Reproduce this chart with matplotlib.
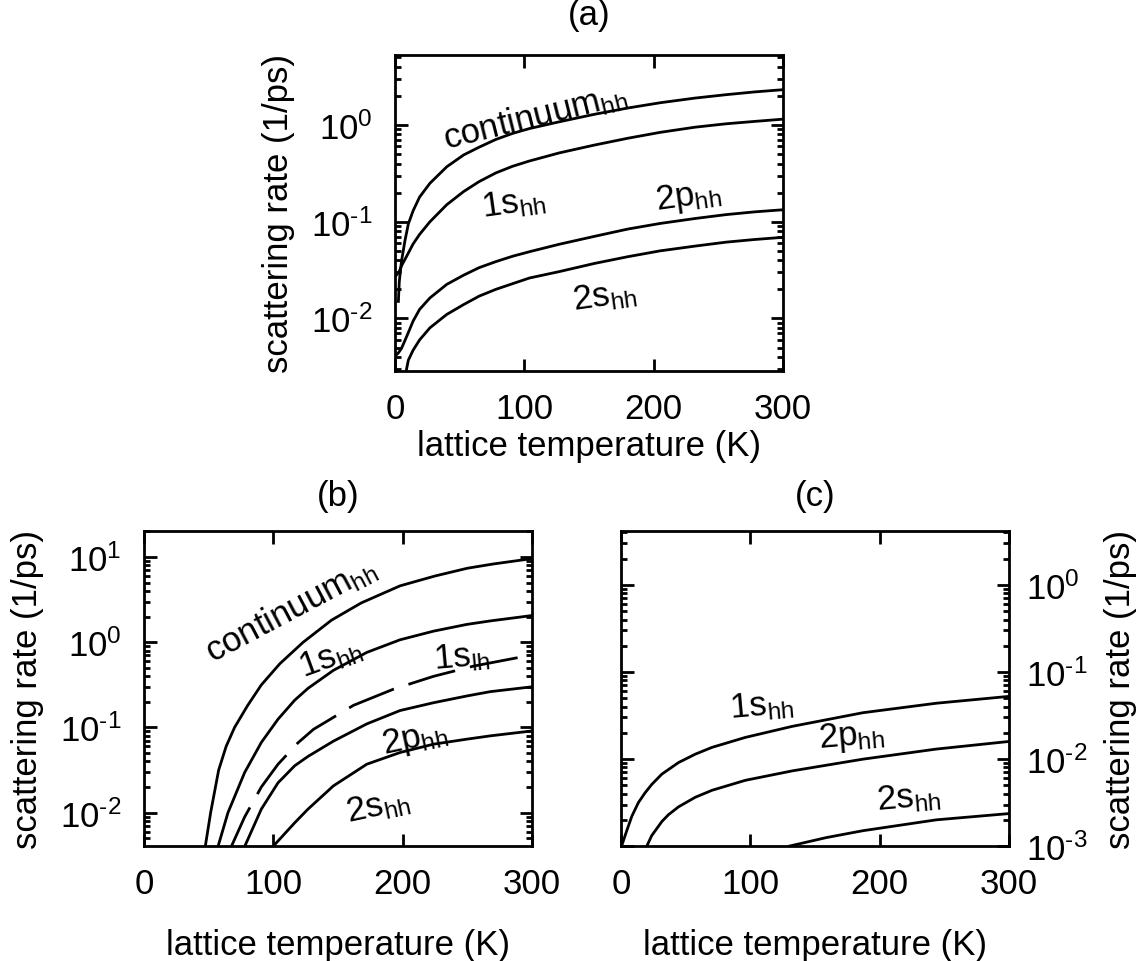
import numpy as np
import matplotlib
matplotlib.use('Agg')
import matplotlib.pyplot as plt
from matplotlib.ticker import LogLocator, NullFormatter, FuncFormatter

plt.rcParams['font.family'] = ['Liberation Sans', 'DejaVu Sans']
plt.rcParams['mathtext.fontset'] = 'custom'
plt.rcParams['mathtext.rm'] = 'Liberation Sans'
plt.rcParams['mathtext.it'] = 'Liberation Sans:italic'
plt.rcParams['mathtext.bf'] = 'Liberation Sans:bold'

# %% data (temperature in K, rate in 1/ps)
# panel (a)
T_a_cont = [2.6, 3.3, 5, 7.7, 10.3, 14, 19, 27, 40, 53, 65, 78, 91, 104, 127, 154, 180, 205, 232, 256, 278, 300]
r_a_cont = [0.015, 0.024, 0.039, 0.064, 0.095, 0.13, 0.18, 0.25, 0.37, 0.49, 0.59, 0.71, 0.82, 0.92, 1.08,
            1.29, 1.5, 1.7, 1.9, 2.06, 2.2, 2.32]
T_a_1s = [1, 3, 5, 9, 14, 19, 27, 40, 53, 65, 78, 91, 104, 127, 154, 180, 205, 232, 256, 278, 300]
r_a_1s = [0.028, 0.030, 0.035, 0.044, 0.059, 0.074, 0.10, 0.15, 0.205, 0.26, 0.32, 0.375, 0.425, 0.515, 0.62,
          0.73, 0.84, 0.95, 1.03, 1.09, 1.15]
T_a_2p = [1, 2.6, 5, 9, 14, 19, 27, 40, 53, 65, 78, 91, 104, 127, 154, 180, 205, 232, 256, 278, 300]
r_a_2p = [0.0042, 0.0044, 0.0049, 0.0065, 0.0094, 0.0124, 0.0163, 0.0225, 0.028, 0.0335, 0.0387, 0.044,
          0.049, 0.0585, 0.0705, 0.084, 0.096, 0.108, 0.1185, 0.1265, 0.133]
T_a_2s = [8, 10.3, 14, 19, 27, 40, 53, 65, 78, 91, 104, 127, 154, 180, 205, 232, 256, 278, 300]
r_a_2s = [0.0026, 0.0037, 0.0047, 0.006, 0.008, 0.011, 0.0139, 0.017, 0.020, 0.0229, 0.0262, 0.0305, 0.037,
          0.0435, 0.050, 0.056, 0.0615, 0.0655, 0.069]

# panel (b)
T_b_cont = [46, 47.4, 51.5, 57.7, 63.5, 70, 80, 90.7, 105, 123, 145, 168, 198, 225, 250, 270, 300]
r_b_cont = [0.0028, 0.00405, 0.01, 0.0316, 0.060, 0.1, 0.18, 0.316, 0.56, 1.0, 1.82, 2.9, 4.6, 6.0, 7.4, 8.3, 9.6]
T_b_1s = [56, 57.2, 64.9, 77.8, 90.7, 103.6, 116.5, 126.8, 146.4, 172.2, 198, 223.8, 249.5, 267.6, 300]
r_b_1s = [0.0035, 0.004, 0.01, 0.0296, 0.0667, 0.125, 0.209, 0.288, 0.468, 0.76, 1.07, 1.35, 1.62, 1.78, 2.06]
T_b_1slh = [66, 67.5, 77.8, 90.7, 103.6, 119, 131, 162, 193, 223.8, 254.8, 300]
r_b_1slh = [0.0035, 0.004, 0.0089, 0.020, 0.037, 0.066, 0.095, 0.182, 0.282, 0.398, 0.525, 0.71]
T_b_2p = [76, 77.8, 90.7, 103.6, 116.5, 126.8, 146.4, 172.2, 198, 223.8, 249.5, 267.6, 300]
r_b_2p = [0.0035, 0.004, 0.011, 0.0224, 0.0355, 0.0457, 0.069, 0.11, 0.158, 0.195, 0.234, 0.263, 0.30]
T_b_2s = [98, 99.7, 116.5, 126.8, 146.4, 172.2, 198, 223.8, 249.5, 267.6, 300]
r_b_2s = [0.0036, 0.004, 0.0076, 0.011, 0.0206, 0.037, 0.0508, 0.0636, 0.0728, 0.0796, 0.091]

# panel (c)
T_c_1s = [0.5, 4.4, 8.4, 13.5, 18.7, 23.8, 31.6, 44.5, 57.4, 70.4, 96.2, 132.4, 187, 243.8, 300]
r_c_1s = [0.001, 0.00149, 0.0022, 0.00316, 0.0041, 0.0051, 0.0067, 0.0091, 0.01135, 0.0136, 0.0177, 0.0237,
          0.034, 0.0437, 0.0524]
T_c_2p = [20, 23.8, 31.6, 36.7, 44.5, 57.4, 70.4, 96.2, 132.4, 187, 243.8, 300]
r_c_2p = [0.001, 0.00132, 0.00191, 0.00229, 0.00282, 0.00363, 0.00437, 0.00569, 0.0073, 0.00995, 0.013, 0.0159]
T_c_2s = [130.4, 158.7, 187, 243.8, 300]
r_c_2s = [0.001, 0.00125, 0.0015, 0.002, 0.00236]

fs = 25
lw = 2.0


def decade_label(v, pos):
    e = int(round(np.log10(v)))
    return r'$\mathdefault{10^{%s}}$' % str(e).replace('-', '\u2010')


def style(ax, ylim, right=False, xpad=20):
    ax.set_yscale('log')
    ax.set_xlim(0, 300)
    ax.set_ylim(*ylim)
    ax.set_xticks([0, 100, 200, 300])
    ax.yaxis.set_major_locator(LogLocator(base=10, numticks=20))
    ax.yaxis.set_major_formatter(FuncFormatter(decade_label))
    ax.yaxis.set_minor_locator(LogLocator(base=10, subs=np.arange(2, 10), numticks=20))
    ax.yaxis.set_minor_formatter(NullFormatter())
    ax.tick_params(which='both', direction='in', top=True, right=True, left=True, width=2)
    ax.tick_params(which='major', length=9, labelsize=fs)
    ax.tick_params(which='minor', length=4.5)
    ax.tick_params(axis='x', pad=15)
    ax.tick_params(axis='y', pad=16)
    for s in ax.spines.values():
        s.set_linewidth(2)
    if right:
        ax.tick_params(axis='y', labelleft=False, labelright=True, pad=12)
        ax.yaxis.set_label_position('right')
    ax.set_xlabel('lattice temperature (K)', fontsize=fs, labelpad=xpad)
    ax.set_ylabel('scattering rate (1/ps)', fontsize=fs, labelpad=12)


def label(ax, x, y, s, rot):
    ax.text(x, y, s, fontsize=fs, rotation=rot, ha='center', va='center', rotation_mode='anchor')


fig = plt.figure(figsize=(11.44, 9.62), dpi=100)
ax_a = fig.add_axes([0.3453, 0.6133, 0.3392, 0.3285])
ax_b = fig.add_axes([0.1259, 0.1195, 0.3392, 0.3274])
ax_c = fig.add_axes([0.5428, 0.1195, 0.3392, 0.3274])

# (a)
ax_a.plot(T_a_cont, r_a_cont, 'k-', lw=lw)
ax_a.plot(T_a_1s, r_a_1s, 'k-', lw=lw)
ax_a.plot(T_a_2p, r_a_2p, 'k-', lw=lw)
ax_a.plot(T_a_2s, r_a_2s, 'k-', lw=lw)
style(ax_a, (0.00286, 5.3), xpad=3)
ax_a.set_title('(a)', fontsize=fs, pad=22)
label(ax_a, 108, 1.25, r'continuum$_\mathrm{hh}$', 14)
label(ax_a, 92, 0.158, r'1s$_\mathrm{hh}$', 8)
label(ax_a, 227, 0.185, r'2p$_\mathrm{hh}$', 8)
label(ax_a, 162, 0.0172, r'2s$_\mathrm{hh}$', 8)

# (b)
ax_b.plot(T_b_cont, r_b_cont, 'k-', lw=lw)
ax_b.plot(T_b_1s, r_b_1s, 'k-', lw=lw)
ax_b.plot(T_b_1slh, r_b_1slh, 'k-', lw=lw, dashes=(17.5, 5.5))
ax_b.plot(T_b_2p, r_b_2p, 'k-', lw=lw)
ax_b.plot(T_b_2s, r_b_2s, 'k-', lw=lw)
style(ax_b, (0.00405, 20.2))
ax_b.set_title('(b)', fontsize=fs, pad=19)
label(ax_b, 113.6, 2.47, r'continuum$_\mathrm{hh}$', 28)
label(ax_b, 144.5, 0.667, r'1s$_\mathrm{hh}$', 20)
label(ax_b, 245.7, 0.667, r'1s$_\mathrm{lh}$', 5)
label(ax_b, 209, 0.076, r'2p$_\mathrm{hh}$', 12)
label(ax_b, 181, 0.012, r'2s$_\mathrm{hh}$', 12)

# (c)
ax_c.plot(T_c_1s, r_c_1s, 'k-', lw=lw)
ax_c.plot(T_c_2p, r_c_2p, 'k-', lw=lw)
ax_c.plot(T_c_2s, r_c_2s, 'k-', lw=lw)
style(ax_c, (0.001, 4.15), right=True)
ax_c.set_title('(c)', fontsize=fs, pad=19)
label(ax_c, 109, 0.0408, r'1s$_\mathrm{hh}$', 5)
label(ax_c, 178.6, 0.0184, r'2p$_\mathrm{hh}$', 5)
label(ax_c, 222.6, 0.0036, r'2s$_\mathrm{hh}$', 5)

fig.savefig('out.png', dpi=100)
